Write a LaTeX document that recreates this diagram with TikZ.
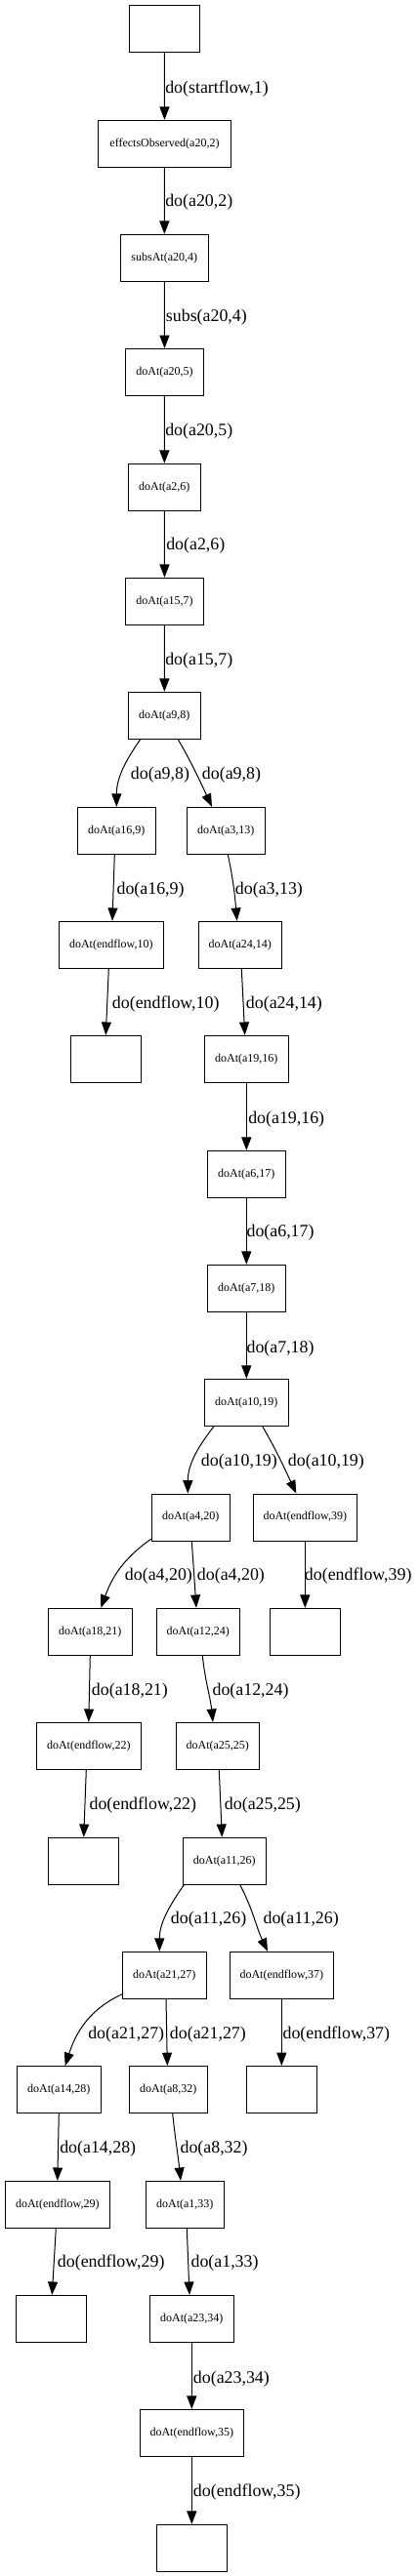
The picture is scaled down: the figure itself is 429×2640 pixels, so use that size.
\documentclass[tikz,border=0pt]{standalone}
\usepackage{fontspec}
\setmainfont{Liberation Serif}
\usetikzlibrary{arrows.meta,calc}
\tikzset{
  bx/.style={draw, line width=0.75pt, minimum height=36pt, inner sep=0pt, font=\fontsize{9}{10}\selectfont},
  lbl/.style={anchor=west, inner sep=0pt, font=\fontsize{13.4}{15}\selectfont},
  ed/.style={line width=0.75pt, -{Triangle[length=10pt,width=7.5pt]}}
}
\begin{document}
\begin{tikzpicture}[x=0.75pt,y=-0.75pt]
\useasboundingbox (0,0) rectangle (429,2640);
% nodes
\node[bx,minimum width=54pt]    (n0)  at (168.3,29.3) {};
\node[bx,minimum width=102.3pt] (n1)  at (168.5,147.3) {effectsObserved(a20,2)};
\node[bx,minimum width=67.5pt]  (n2)  at (168.3,264.3) {subsAt(a20,4)};
\node[bx,minimum width=60.3pt]  (n3)  at (168.5,381.5) {doAt(a20,5)};
\node[bx,minimum width=55.5pt]  (n4)  at (168.3,499.3) {doAt(a2,6)};
\node[bx,minimum width=60.3pt]  (n5)  at (168.5,616.3) {doAt(a15,7)};
\node[bx,minimum width=55.5pt]  (n6)  at (168.3,733.3) {doAt(a9,8)};
\node[bx,minimum width=60pt]    (n7)  at (119.3,851.3) {doAt(a16,9)};
\node[bx,minimum width=60pt]    (n8)  at (231.3,851.3) {doAt(a3,13)};
\node[bx,minimum width=80.25pt] (n9)  at (113.8,968.3) {doAt(endflow,10)};
\node[bx,minimum width=63.75pt] (n10) at (245.8,968.3) {doAt(a24,14)};
\node[bx,minimum width=54pt]    (n11) at (108.3,1085.3) {};
\node[bx,minimum width=64.5pt]  (n12) at (252.3,1085.3) {doAt(a19,16)};
\node[bx,minimum width=60pt]    (n13) at (252.3,1203.3) {doAt(a6,17)};
\node[bx,minimum width=60pt]    (n14) at (252.3,1320.3) {doAt(a7,18)};
\node[bx,minimum width=64.5pt]  (n15) at (252.3,1437.3) {doAt(a10,19)};
\node[bx,minimum width=60pt]    (n16) at (195.3,1555) {doAt(a4,20)};
\node[bx,minimum width=79.5pt]  (n17) at (312.3,1555) {doAt(endflow,39)};
\node[bx,minimum width=64.5pt]  (n18) at (92.3,1672.3) {doAt(a18,21)};
\node[bx,minimum width=63.75pt] (n19) at (202.8,1672.3) {doAt(a12,24)};
\node[bx,minimum width=54pt]    (n20) at (312.3,1672.3) {};
\node[bx,minimum width=80.25pt] (n21) at (90.8,1789.3) {doAt(endflow,22)};
\node[bx,minimum width=63.75pt] (n22) at (222.8,1789.3) {doAt(a25,25)};
\node[bx,minimum width=54pt]    (n23) at (85.3,1907.3) {};
\node[bx,minimum width=63.75pt] (n24) at (229.8,1907.3) {doAt(a11,26)};
\node[bx,minimum width=64.5pt]  (n25) at (168.3,2024.3) {doAt(a21,27)};
\node[bx,minimum width=79.5pt]  (n26) at (288.3,2024.3) {doAt(endflow,37)};
\node[bx,minimum width=64.5pt]  (n27) at (60.3,2141.5) {doAt(a14,28)};
\node[bx,minimum width=60pt]    (n28) at (172.3,2141.5) {doAt(a8,32)};
\node[bx,minimum width=54pt]    (n29) at (288.3,2141.5) {};
\node[bx,minimum width=80.25pt] (n30) at (58.8,2259.3) {doAt(endflow,29)};
\node[bx,minimum width=60pt]    (n31) at (189.3,2259.3) {doAt(a1,33)};
\node[bx,minimum width=54pt]    (n32) at (52.3,2376.3) {};
\node[bx,minimum width=64.5pt]  (n33) at (196.3,2376.3) {doAt(a23,34)};
\node[bx,minimum width=79.5pt]  (n34) at (196.3,2493.3) {doAt(endflow,35)};
\node[bx,minimum width=54pt]    (n35) at (196.3,2611.3) {};
% edges
\draw[ed] (n0) -- (n1);
\draw[ed] (n1) -- (n2);
\draw[ed] (n2) -- (n3);
\draw[ed] (n3) -- (n4);
\draw[ed] (n4) -- (n5);
\draw[ed] (n5) -- (n6);
\draw[ed] ($(n6.south)+(-24.6,0)$) to[out=235,in=90] (n7.north);
\draw[ed] ($(n6.south)+(14,0)$) to[out=-60,in=115] ($(n8.north)+(-14.3,0)$);
\draw[ed] ($(n7.south)+(-2,0)$) -- ($(n9.north)+(1.2,0)$);
\draw[ed] ($(n8.south)+(2,0)$) to[out=-78,in=95] ($(n10.north)+(-3.1,0)$);
\draw[ed] ($(n9.south)+(-2.5,0)$) -- (n11.north);
\draw[ed] ($(n10.south)+(1.5,0)$) -- ($(n12.north)+(-1.6,0)$);
\draw[ed] (n12) -- (n13);
\draw[ed] (n13) -- (n14);
\draw[ed] (n14) -- (n15);
\draw[ed] ($(n15.south)+(-33.3,0)$) to[out=232,in=90] ($(n16.north)+(-3,0)$);
\draw[ed] ($(n15.south)+(16.4,0)$) to[out=-60,in=115] ($(n17.north)+(-9,0)$);
\draw[ed] ($(n16.south west)+(0,-2.3)$) to[out=215,in=70] ($(n18.north)+(11,0)$);
\draw[ed] ($(n16.south)+(1,0)$) -- ($(n19.north)+(-1.8,0)$);
\draw[ed] (n17) -- (n20);
\draw[ed] (n18.south) -- (n21.north);
\draw[ed] ($(n19.south)+(4.5,0)$) to[out=-84,in=96] ($(n22.north)+(-4.8,0)$);
\draw[ed] ($(n21.south)+(-2.5,0)$) -- ($(n23.north)+(0.4,0)$);
\draw[ed] ($(n22.south)+(1.5,0)$) -- ($(n24.north)+(-2.5,0)$);
\draw[ed] ($(n24.south)+(-41.5,0)$) to[out=235,in=90] ($(n25.north)+(-5,0)$);
\draw[ed] ($(n24.south)+(15.9,0)$) to[out=-62,in=115] ($(n26.north)+(-14.3,0)$);
\draw[ed] ($(n25.south west)+(0,-5)$) to[out=205,in=72] ($(n27.north)+(6.4,0)$);
\draw[ed] ($(n25.south)+(1.7,0)$) -- ($(n28.north)+(-1,0)$);
\draw[ed] (n26) -- (n29);
\draw[ed] (n27.south) -- (n30.north);
\draw[ed] ($(n28.south)+(4.4,0)$) to[out=-84,in=96] ($(n31.north)+(-4.3,0)$);
\draw[ed] ($(n30.south)+(-1.5,0)$) -- ($(n32.north)+(1,0)$);
\draw[ed] ($(n31.south)+(2,0)$) -- ($(n33.north)+(-2.3,0)$);
\draw[ed] (n33) -- (n34);
\draw[ed] (n34) -- (n35);
% labels
\node[lbl] (l1)  at (169,90.7)     {do(startflow,1)};
\node[lbl] (l2)  at (169,207.3)    {do(a20,2)};
\node[lbl] (l3)  at (169.7,325)    {subs(a20,4)};
\node[lbl] (l4)  at (169,442.5)    {do(a20,5)};
\node[lbl] (l5)  at (170,559)      {do(a2,6)};
\node[lbl] (l6)  at (169,677.3)    {do(a15,7)};
\node[lbl] (l7a) at (133.7,794.3)  {do(a9,8)};
\node[lbl] (l7b) at (206.7,794.3)  {do(a9,8)};
\node[lbl] (l8)  at (119.3,911.7)  {do(a16,9)};
\node[lbl] (l9)  at (240.7,911.7)  {do(a3,13)};
\node[lbl] (l10) at (114.7,1029.3) {do(endflow,10)};
\node[lbl] (l11) at (251.7,1029.3) {do(a24,14)};
\node[lbl] (l12) at (254,1146.7)   {do(a19,16)};
\node[lbl] (l13) at (252.3,1263.3) {do(a6,17)};
\node[lbl] (l14) at (252.3,1381.7) {do(a7,18)};
\node[lbl] (l15a) at (205.7,1498.3) {do(a10,19)};
\node[lbl] (l15b) at (294.7,1498.3) {do(a10,19)};
\node[lbl] (l16a) at (127.7,1615.3) {do(a4,20)};
\node[lbl] (l16b) at (201.7,1615.3) {do(a4,20)};
\node[lbl] (l17) at (311.7,1615.3) {do(endflow,39)};
\node[lbl] (l18) at (93.7,1733.3)  {do(a18,21)};
\node[lbl] (l19) at (217.3,1733.3) {do(a12,24)};
\node[lbl] (l21) at (91.3,1850.3)  {do(endflow,22)};
\node[lbl] (l22) at (229.7,1850.3) {do(a25,25)};
\node[lbl] (l24a) at (174.7,1967.3) {do(a11,26)};
\node[lbl] (l24b) at (269.3,1967.3) {do(a11,26)};
\node[lbl] (l25a) at (90,2085)     {do(a21,27)};
\node[lbl] (l25b) at (173.7,2085)  {do(a21,27)};
\node[lbl] (l26) at (289.3,2085)   {do(endflow,37)};
\node[lbl] (l27) at (61,2202.3)    {do(a14,28)};
\node[lbl] (l28) at (184.3,2202.3) {do(a8,32)};
\node[lbl] (l30) at (58.7,2319)    {do(endflow,29)};
\node[lbl] (l31) at (195.3,2319)   {do(a1,33)};
\node[lbl] (l33) at (197.7,2437.7) {do(a23,34)};
\node[lbl] (l34) at (197.7,2554)   {do(endflow,35)};
\end{tikzpicture}
\end{document}
